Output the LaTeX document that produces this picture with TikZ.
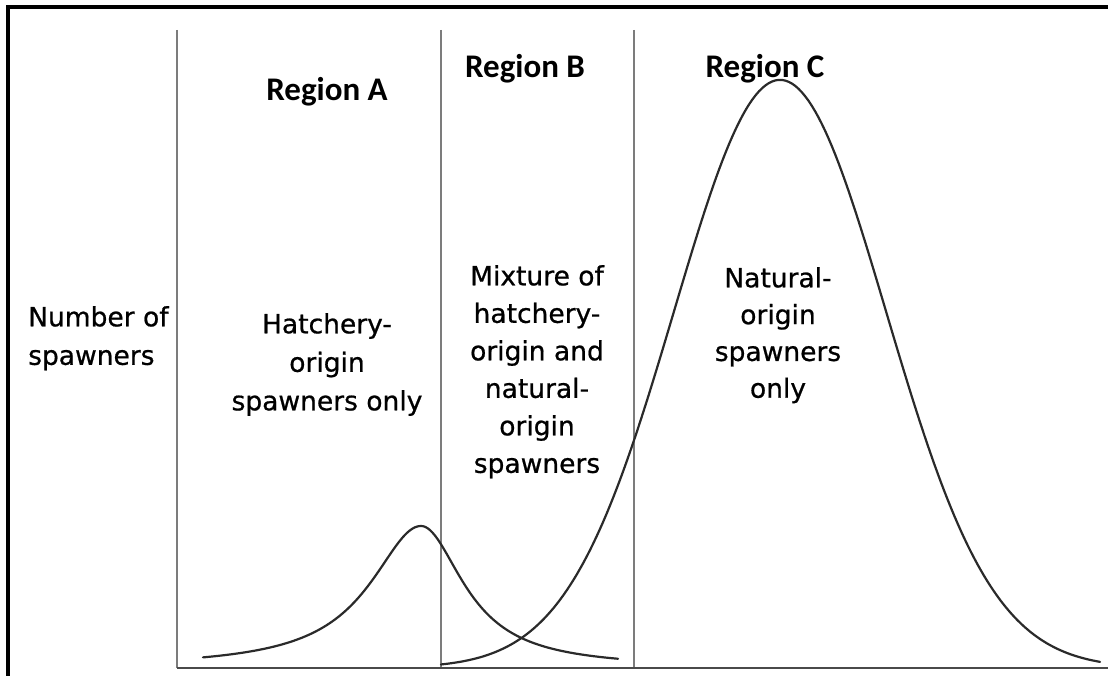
\documentclass[tikz,border=0pt]{standalone}
\usepackage{fontspec}
\setmainfont{DejaVu Sans}
\newfontfamily\bodyfont{DejaVu Sans}[FakeBold=0.7]
\newfontfamily\regionfont{Carlito}
\definecolor{vline}{HTML}{7C7C7C}
\definecolor{hline}{HTML}{4A4A4A}
\definecolor{curvecol}{HTML}{2A2A2A}
\tikzset{
  vdivider/.style={draw=vline, line width=2.8pt},
  xaxis/.style={draw=hline, line width=2.8pt},
  curveline/.style={draw=curvecol, line width=2.2pt, line join=round, line cap=round},
  frameline/.style={draw=black, line width=4pt, line join=miter},
  regionlabel/.style={font={\regionfont\bfseries\fontsize{33}{38}\selectfont}, inner sep=0pt, anchor=base},
  bodytext/.style={font={\bodyfont\fontsize{26.5}{38.5}\selectfont}, inner sep=0pt, anchor=north, align=center},
}
\begin{document}
\begin{tikzpicture}[x=1pt, y=-1pt]
\useasboundingbox (0,0) rectangle (1108,676);
% frame
\coordinate (fbl) at (8,676);
\coordinate (ftl) at (8,7);
\coordinate (ftr) at (1108,7);
\draw[frameline] (fbl) -- (ftl) -- (ftr);
% axes and dividers
\coordinate (ytop) at (177,30);
\coordinate (origin) at (177,668);
\coordinate (xend) at (1108,668);
\coordinate (d1top) at (441,30);
\coordinate (d1bot) at (441,668);
\coordinate (d2top) at (634,30);
\coordinate (d2bot) at (634,668);
\draw[vdivider] (ytop) -- (origin);
\draw[vdivider] (d1top) -- (d1bot);
\draw[vdivider] (d2top) -- (d2bot);
\draw[xaxis] (origin) -- (xend);
% hatchery curve (peaked, heavy tails)
\draw[curveline] plot[domain=203:421, samples=120] (\x, {668-142/(1+((\x-421)/62)^2)})
  -- plot[domain=421:618, samples=120] (\x, {668-142/(1+((\x-421)/52)^2)});
% natural curve (bell)
\draw[curveline] plot[domain=441:1100, samples=200] (\x, {668-588*exp(-0.5*((\x-780)/106)^2)});
% region labels
\node[regionlabel] (ra) at (327,101) {Region A};
\node[regionlabel] (rb) at (525,78) {Region B};
\node[regionlabel] (rc) at (765,78) {Region C};
% texts
\node[bodytext, anchor=north west, align=left] (ylab) at (28,306) {Number of\\spawners};
\node[bodytext] (ta) at (327,313) {Hatchery-\\origin\\spawners only};
\node[bodytext, font={\bodyfont\fontsize{26.5}{37.5}\selectfont}] (tb) at (537,265) {Mixture of\\hatchery-\\origin and\\natural-\\origin\\spawners};
\node[bodytext, font={\bodyfont\fontsize{26.5}{36.8}\selectfont}] (tc) at (778,267) {Natural-\\origin\\spawners\\only};
\end{tikzpicture}
\end{document}
